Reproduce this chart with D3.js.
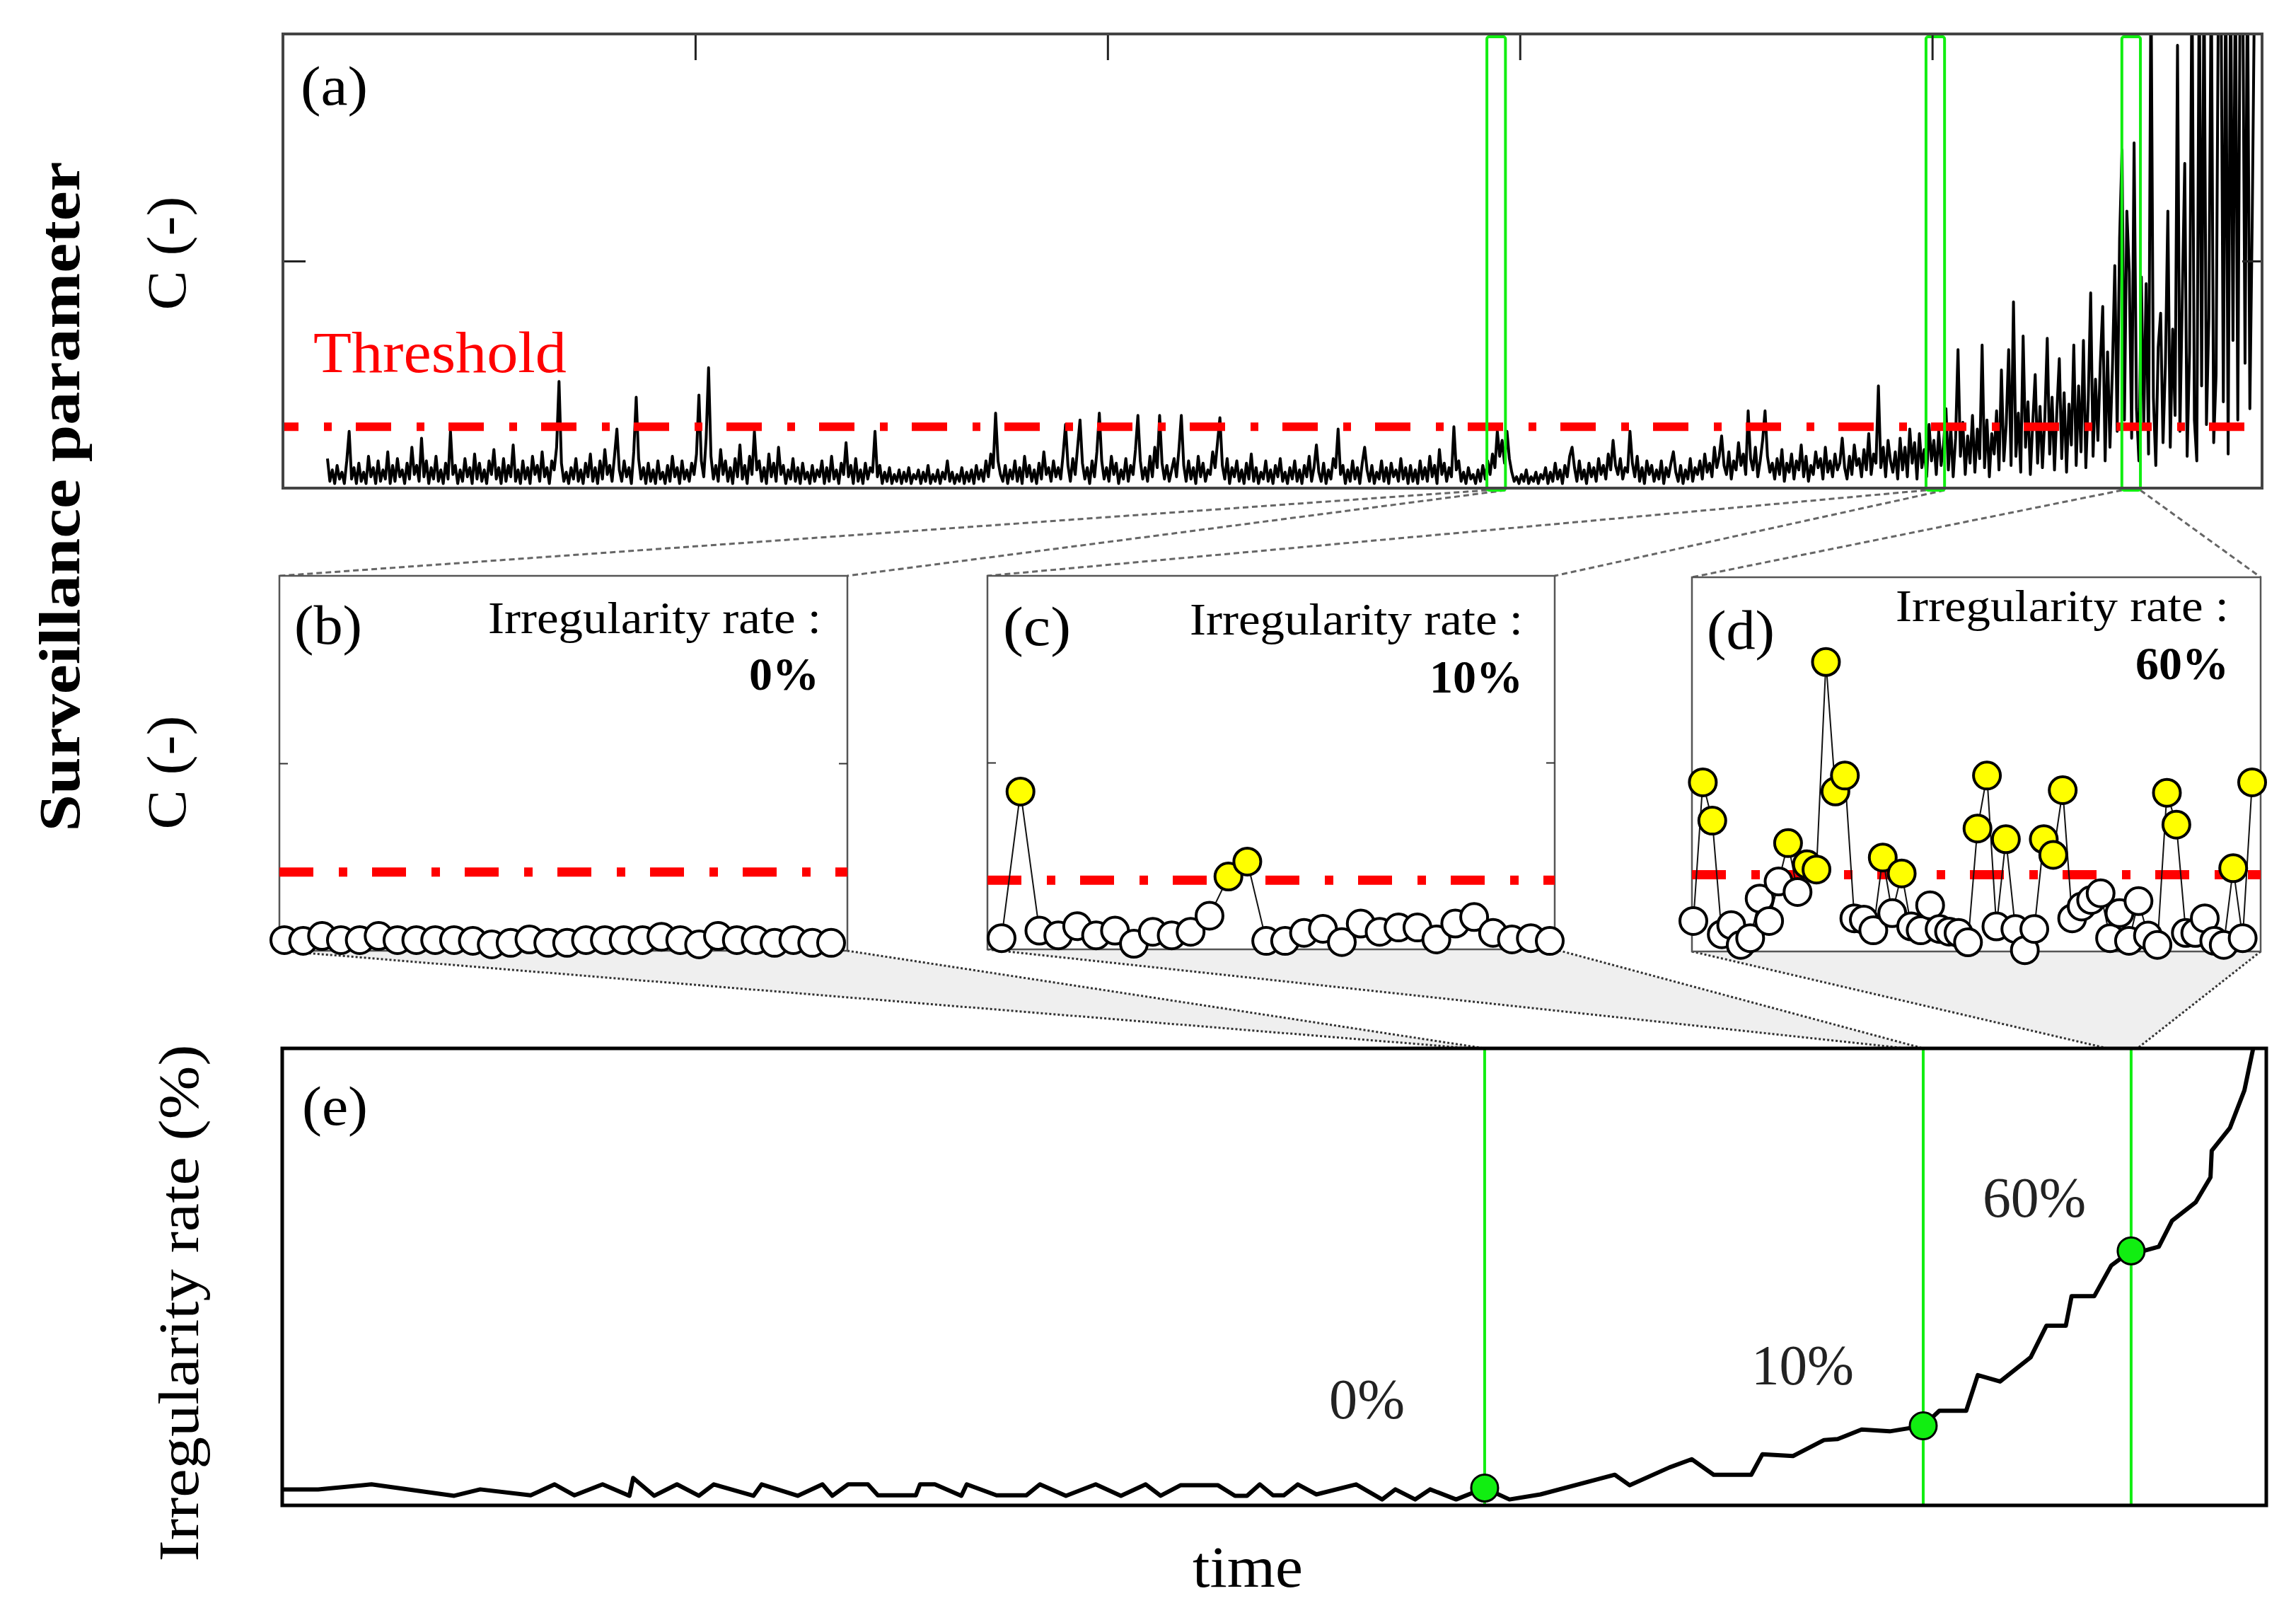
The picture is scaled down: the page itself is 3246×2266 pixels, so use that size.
<!DOCTYPE html>
<html lang="en">
<head>
<meta charset="UTF-8">
<title>Surveillance parameter and irregularity rate</title>
<script src="https://d3js.org/d3.v7.min.js"></script>
<style>
  body { margin: 0; background: #fff; }
  svg { display: block; font-family: "Liberation Serif", "DejaVu Serif", serif; }
</style>
</head>
<body>
<svg id="canvas"></svg>
<script>
let width = 3246
let height = 2266

// ---------- data ----------
// (a) surveillance parameter C, one value per sample
let signalStart = 1.08
let signalStep = 0.0585
let signalValues = [
  0.13,0.03,0.08,0.02,0.10,0.04,0.07,0.02,0.12,0.25, 0.04,0.09,0.02,0.11,0.03,0.07,0.02,0.14,0.05,0.09,
  0.02,0.12,0.03,0.08,0.04,0.16,0.02,0.10,0.03,0.13, 0.05,0.08,0.02,0.11,0.04,0.18,0.06,0.10,0.03,0.22,
  0.05,0.12,0.02,0.09,0.04,0.14,0.03,0.08,0.02,0.11,
  0.04,0.25,0.06,0.10,0.02,0.08,0.03,0.13,0.05,0.09, 0.02,0.15,0.04,0.11,0.03,0.08,0.02,0.12,0.06,0.17,
  0.04,0.09,0.02,0.13,0.03,0.10,0.05,0.19,0.03,0.08, 0.02,0.12,0.04,0.09,0.02,0.14,0.06,0.10,0.03,0.16,
  0.05,0.09,0.02,0.12,0.08,0.18,0.47,0.11,0.03,0.07,
  0.02,0.09,0.04,0.13,0.03,0.08,0.02,0.11,0.05,0.15, 0.03,0.09,0.02,0.12,0.04,0.17,0.06,0.10,0.03,0.14,
  0.26,0.08,0.03,0.12,0.05,0.09,0.02,0.16,0.40,0.13, 0.04,0.09,0.02,0.11,0.03,0.08,0.02,0.12,0.04,0.07,
  0.02,0.10,0.03,0.14,0.05,0.09,0.02,0.12,0.04,0.08,
  0.03,0.11,0.06,0.15,0.41,0.12,0.05,0.22,0.53,0.14, 0.04,0.10,0.03,0.17,0.06,0.12,0.03,0.09,0.02,0.13,
  0.05,0.19,0.04,0.10,0.02,0.14,0.06,0.25,0.08,0.12, 0.03,0.09,0.02,0.15,0.05,0.11,0.03,0.18,0.06,0.10,
  0.02,0.08,0.04,0.13,0.03,0.09,0.02,0.11,0.04,0.07,
  0.02,0.10,0.03,0.08,0.05,0.12,0.02,0.09,0.03,0.14, 0.04,0.08,0.02,0.11,0.06,0.20,0.05,0.10,0.02,0.13,
  0.03,0.08,0.02,0.11,0.04,0.09,0.07,0.25,0.05,0.10, 0.02,0.07,0.03,0.09,0.02,0.06,0.03,0.08,0.02,0.07,
  0.03,0.09,0.02,0.06,0.04,0.08,0.02,0.07,0.03,0.10,
  0.02,0.06,0.03,0.08,0.02,0.07,0.04,0.12,0.03,0.07, 0.02,0.06,0.03,0.09,0.02,0.07,0.03,0.08,0.02,0.10,
  0.04,0.08,0.03,0.12,0.05,0.15,0.09,0.33,0.12,0.06, 0.03,0.10,0.02,0.08,0.04,0.12,0.03,0.09,0.02,0.14,
  0.05,0.10,0.03,0.08,0.02,0.11,0.04,0.16,0.06,0.09,
  0.03,0.12,0.05,0.09,0.04,0.15,0.28,0.10,0.03,0.13, 0.06,0.18,0.30,0.11,0.04,0.09,0.02,0.12,0.05,0.16,
  0.33,0.12,0.04,0.09,0.03,0.14,0.06,0.11,0.02,0.08, 0.04,0.13,0.03,0.10,0.06,0.17,0.32,0.12,0.04,0.09,
  0.03,0.14,0.05,0.18,0.09,0.32,0.11,0.04,0.10,0.03,
  0.08,0.13,0.05,0.17,0.32,0.10,0.03,0.12,0.04,0.09, 0.02,0.14,0.05,0.11,0.03,0.08,0.06,0.16,0.09,0.20,
  0.31,0.10,0.04,0.13,0.02,0.09,0.05,0.12,0.03,0.08, 0.02,0.11,0.04,0.15,0.03,0.09,0.02,0.07,0.04,0.12,
  0.03,0.08,0.02,0.10,0.05,0.13,0.03,0.07,0.02,0.09,
  0.04,0.12,0.03,0.08,0.02,0.10,0.05,0.14,0.03,0.09, 0.19,0.07,0.03,0.11,0.02,0.08,0.04,0.13,0.09,0.26,
  0.06,0.10,0.02,0.08,0.03,0.12,0.04,0.09,0.02,0.11, 0.18,0.08,0.03,0.10,0.02,0.07,0.04,0.12,0.03,0.09,
  0.02,0.11,0.05,0.08,0.03,0.13,0.04,0.09,0.02,0.10,
  0.03,0.08,0.02,0.12,0.04,0.09,0.03,0.14,0.05,0.10, 0.02,0.17,0.06,0.11,0.03,0.09,0.05,0.27,0.08,0.12,
  0.03,0.07,0.02,0.09,0.04,0.06,0.02,0.08,0.03,0.10, 0.04,0.12,0.06,0.15,0.09,0.25,0.14,0.21,0.11,0.25,
  0.13,0.07,0.03,0.05,0.02,0.06,0.03,0.08,0.02,0.05,
  0.03,0.07,0.02,0.06,0.04,0.09,0.02,0.07,0.03,0.11, 0.04,0.08,0.02,0.10,0.05,0.14,0.18,0.09,0.03,0.12,
  0.04,0.08,0.02,0.11,0.05,0.09,0.03,0.13,0.06,0.10, 0.04,0.15,0.08,0.21,0.10,0.06,0.13,0.04,0.09,0.07,
  0.25,0.11,0.05,0.14,0.03,0.09,0.02,0.12,0.06,0.10,
  0.03,0.08,0.04,0.12,0.02,0.09,0.05,0.11,0.16,0.07, 0.03,0.10,0.02,0.08,0.04,0.13,0.03,0.09,0.06,0.12,
  0.04,0.15,0.07,0.11,0.05,0.18,0.09,0.14,0.23,0.10, 0.06,0.16,0.04,0.12,0.08,0.20,0.10,0.15,0.06,0.34,
  0.13,0.08,0.18,0.05,0.12,0.21,0.34,0.14,0.07,0.11,
  0.04,0.13,0.06,0.17,0.03,0.11,0.07,0.15,0.04,0.12, 0.08,0.19,0.05,0.14,0.03,0.10,0.06,0.16,0.09,0.13,
  0.04,0.18,0.07,0.12,0.05,0.15,0.08,0.11,0.22,0.09, 0.04,0.14,0.06,0.19,0.10,0.13,0.05,0.17,0.08,0.24,
  0.06,0.15,0.11,0.45,0.09,0.18,0.05,0.21,0.12,0.07,
  0.16,0.04,0.22,0.08,0.18,0.05,0.26,0.11,0.20,0.04, 0.24,0.09,0.17,0.05,0.28,0.12,0.21,0.06,0.25,0.10,
  0.19,0.35,0.08,0.27,0.05,0.22,0.61,0.14,0.29,0.06, 0.23,0.11,0.32,0.07,0.26,0.13,0.63,0.09,0.30,0.05,
  0.24,0.15,0.34,0.08,0.52,0.12,0.28,0.61,0.10,0.82,
  0.14,0.33,0.07,0.67,0.18,0.38,0.06,0.29,0.50,0.11, 0.36,0.09,0.31,0.66,0.15,0.40,0.08,0.34,0.57,0.13,
  0.42,0.07,0.37,0.19,0.63,0.10,0.45,0.16,0.65,0.09, 0.39,0.86,0.14,0.48,0.21,0.55,0.80,0.12,0.60,0.18,
  0.52,0.98,0.25,1.10,1.49,0.30,1.22,0.95,0.22,1.52,
  0.35,0.12,0.93,0.28,0.90,0.15,2.30,0.40,0.10,0.62, 0.77,0.20,0.55,1.22,0.18,0.70,0.32,1.95,0.25,0.85,
  1.43,0.14,0.60,2.30,0.30,0.12,2.30,0.45,2.30,0.28, 0.75,2.30,0.20,0.50,2.30,2.30,0.38,2.30,0.15,2.30,
  0.65,2.30,0.30,2.30,2.30,0.55,2.30,0.35,1.20,2.30
]
let threshold = 0.27
let timeTicks = [10, 20, 30, 40]
let cTicks = [1]

// the three zoomed windows (time)
let zoomWindows = [[29.2, 29.65], [39.85, 40.3], [44.6, 45.05]]
let eWindows = [[28.75, 29.09], [39.29, 39.70], [44.16, 44.88]]

// (b), (c), (d) zoomed samples
let panelB = [0.057,0.053,0.079,0.057,0.057,0.079,0.057,0.057,0.057,0.057,0.053,0.034,0.042,0.06,0.042,
              0.042,0.057,0.057,0.057,0.057,0.075,0.057,0.034,0.079,0.057,0.057,0.042,0.057,0.042,0.042]
let panelC = [0.06,0.845,0.10,0.075,0.124,0.075,0.10,0.03,0.094,0.075,0.094,0.18,0.39,0.47,0.045,
              0.045,0.088,0.11,0.039,0.138,0.094,0.117,0.117,0.053,0.138,0.173,0.088,0.053,0.06,0.045]
let panelD = [0.163,0.904,0.699,0.092,0.141,0.035,0.071,0.283,0.163,0.374,0.579,0.318,0.466,0.438,1.547,
              0.855,0.94,0.177,0.17,0.113,0.502,0.205,0.417,0.134,0.113,0.247,0.12,0.106,0.099,0.049,
              0.657,0.94,0.134,0.60,0.12,0.007,0.12,0.60,0.516,0.862,0.177,0.24,0.275,0.311,0.071,
              0.205,0.057,0.269,0.085,0.035,0.848,0.678,0.099,0.099,0.177,0.057,0.035,0.445,0.071,0.904]
let zoomThresholds = [0.42, 0.37, 0.41]
let zoomLetters = ['(b)', '(c)', '(d)']
let rateLabels = ['0%', '10%', '60%']

// (e) irregularity rate
let rateTimes = [0,0.87,2.16,4.16,4.79,6.01,6.59,7.07,7.75,8.40,8.49,9.00,9.55,10.08,10.44,11.40,11.60,12.47,13.07,13.31,
  13.69,14.17,14.41,15.33,15.43,15.79,16.43,16.56,17.28,18.00,18.33,18.96,19.68,20.29,20.89,21.25,21.73,22.64,23.05,23.34,
  23.65,23.97,24.23,24.57,25.02,25.98,26.61,26.93,27.41,27.77,28.40,29.09,29.69,30.44,32.24,32.60,33.56,34.10,34.63,35.54,
  35.81,36.55,37.30,37.63,38.21,38.89,39.70,40.09,40.74,41.02,41.56,42.30,42.68,43.15,43.29,43.84,44.25,44.73,45.04,45.40,
  45.72,46.29,46.65,46.68,47.12,47.47,47.68]
let rateValues = [.035,.035,.046,.021,.035,.022,.046,.022,.046,.021,.060,.021,.046,.021,.046,.021,.046,.021,.046,.021,
  .046,.046,.022,.022,.046,.046,.021,.046,.022,.022,.046,.021,.046,.021,.046,.021,.044,.044,.021,.021,
  .046,.022,.022,.046,.024,.046,.013,.035,.013,.035,.013,.038,.013,.024,.067,.044,.083,.101,.067,.067,
  .112,.108,.143,.145,.166,.162,.174,.207,.207,.285,.271,.324,.393,.393,.458,.458,.525,.557,.557,.566,
  .623,.663,.718,.776,.826,.908,.999]
let markerTimes = [29.09, 39.70, 44.73]
let markerValues = [0.038, 0.174, 0.557]

// ---------- layout ----------
let frameA = {x0: 400, x1: 3198, y0: 48, y1: 690}
let zoomFrames = [
  {x0: 395, x1: 1198, y0: 814, y1: 1344, p0: 402, p1: 1175, lx: 416, ly: 910, tx: 1161, ty: 895, rx: 1158, ry: 975},
  {x0: 1396, x1: 2198, y0: 814, y1: 1342, p0: 1416, p1: 2191, lx: 1418, ly: 912, tx: 2153, ty: 897, rx: 2153, ry: 979},
  {x0: 2392, x1: 3196, y0: 816, y1: 1345, p0: 2394, p1: 3184, lx: 2413, ly: 917, tx: 3151, ty: 878, rx: 3151, ry: 960}
]
let frameE = {x0: 399, x1: 3204, y0: 1482, y1: 2128}
let green = '#11ee11'

let svg = d3.select('#canvas').attr('width', width).attr('height', height)
svg.append('rect').attr('width', width).attr('height', height).attr('fill', '#fff')

let xA = d3.scaleLinear().domain([0, 48]).range([frameA.x0, frameA.x1])
let yA = d3.scaleLinear().domain([0, 2]).range([frameA.y1, frameA.y0])
let xE = d3.scaleLinear().domain([0, 48]).range([frameE.x0, frameE.x1])
let yE = d3.scaleLinear().domain([0, 1]).range([frameE.y1, frameE.y0])

let defs = svg.append('defs')
defs.append('clipPath').attr('id', 'clipA').append('rect')
  .attr('x', frameA.x0).attr('y', frameA.y0)
  .attr('width', frameA.x1 - frameA.x0).attr('height', frameA.y1 - frameA.y0)

let cleanAxis = (g, color, w) => {
  g.select('.domain').remove()
  g.selectAll('.tick text').remove()
  g.selectAll('.tick line').attr('stroke', color).attr('stroke-width', w)
}

// ---------- connectors (behind everything) ----------
zoomFrames.forEach((f, k) => {
  let ew = eWindows[k]
  svg.append('path')
    .attr('d', `M${f.x0},${f.y1} L${f.x1},${f.y1} L${xE(ew[1])},${frameE.y0} L${xE(ew[0])},${frameE.y0} Z`)
    .attr('fill', '#efefef')
  ;[[f.x0, ew[0]], [f.x1, ew[1]]].forEach(p => {
    svg.append('line')
      .attr('x1', p[0]).attr('y1', f.y1).attr('x2', xE(p[1])).attr('y2', frameE.y0)
      .attr('stroke', '#333').attr('stroke-width', 3).attr('stroke-dasharray', '3,3')
  })
  let w = zoomWindows[k]
  ;[[w[0], f.x0], [w[1], f.x1]].forEach(p => {
    svg.append('line')
      .attr('x1', xA(p[0])).attr('y1', frameA.y1 + 3).attr('x2', p[1]).attr('y2', f.y0)
      .attr('stroke', '#666').attr('stroke-width', 3).attr('stroke-dasharray', '8,5')
  })
})

// ---------- panel (a) ----------
let gA = svg.append('g')
gA.append('rect')
  .attr('x', frameA.x0).attr('y', frameA.y0)
  .attr('width', frameA.x1 - frameA.x0).attr('height', frameA.y1 - frameA.y0)
  .attr('fill', '#fff')

let signalLine = d3.line()
  .x((d, i) => xA(signalStart + i * signalStep))
  .y(d => yA(d))

gA.append('path')
  .datum(signalValues)
  .attr('clip-path', 'url(#clipA)')
  .attr('d', signalLine)
  .attr('fill', 'none').attr('stroke', '#000').attr('stroke-width', 4)
  .attr('stroke-linejoin', 'round')

gA.append('line')
  .attr('x1', xA(0)).attr('x2', xA(47.66))
  .attr('y1', yA(threshold)).attr('y2', yA(threshold))
  .attr('stroke', '#ff0000').attr('stroke-width', 12)
  .attr('stroke-dasharray', '50,36,11,34').attr('stroke-dashoffset', 28)

gA.selectAll('.zoombox')
  .data(zoomWindows)
  .enter()
  .append('rect')
  .attr('class', 'zoombox')
  .attr('x', d => xA(d[0])).attr('width', d => xA(d[1]) - xA(d[0]))
  .attr('y', frameA.y0 + 4).attr('height', frameA.y1 - frameA.y0 - 1)
  .attr('rx', 3)
  .attr('fill', 'none').attr('stroke', green).attr('stroke-width', 4)

gA.append('g').attr('transform', `translate(0,${frameA.y0})`)
  .call(d3.axisTop(xA).tickValues(timeTicks).tickSize(-37))
  .call(g => cleanAxis(g, '#222', 3))
gA.append('g').attr('transform', `translate(${frameA.x0},0)`)
  .call(d3.axisLeft(yA).tickValues(cTicks).tickSize(-32))
  .call(g => cleanAxis(g, '#222', 3))
gA.append('g').attr('transform', `translate(${frameA.x1},0)`)
  .call(d3.axisRight(yA).tickValues(cTicks).tickSize(-28))
  .call(g => cleanAxis(g, '#222', 3))

gA.append('rect')
  .attr('x', frameA.x0).attr('y', frameA.y0)
  .attr('width', frameA.x1 - frameA.x0).attr('height', frameA.y1 - frameA.y0)
  .attr('fill', 'none').attr('stroke', '#444').attr('stroke-width', 4)

gA.append('text').text('(a)')
  .attr('x', 425).attr('y', 148).attr('font-size', 78)
  .attr('textLength', 95).attr('lengthAdjust', 'spacingAndGlyphs')
gA.append('text').text('Threshold')
  .attr('x', 443).attr('y', 526).attr('font-size', 82).attr('fill', '#ff0000')
  .attr('textLength', 358).attr('lengthAdjust', 'spacingAndGlyphs')

// ---------- panels (b), (c), (d) ----------
let zoomData = [panelB, panelC, panelD]
zoomFrames.forEach((f, k) => {
  let vals = zoomData[k]
  let th = zoomThresholds[k]
  let x = d3.scaleLinear().domain([0, vals.length - 1]).range([f.p0, f.p1])
  let y = d3.scaleLinear().domain([0, 2]).range([f.y1, f.y0])
  let g = svg.append('g')

  g.append('rect')
    .attr('x', f.x0).attr('y', f.y0).attr('width', f.x1 - f.x0).attr('height', f.y1 - f.y0)
    .attr('fill', '#fff').attr('stroke', '#555').attr('stroke-width', 2.5)

  if (k < 2) {
    g.append('g').attr('transform', `translate(${f.x0},0)`)
      .call(d3.axisLeft(y).tickValues(cTicks).tickSize(-12))
      .call(a => cleanAxis(a, '#333', 2))
    g.append('g').attr('transform', `translate(${f.x1},0)`)
      .call(d3.axisRight(y).tickValues(cTicks).tickSize(-12))
      .call(a => cleanAxis(a, '#333', 2))
  }

  g.append('line')
    .attr('x1', f.x0).attr('x2', f.x1).attr('y1', y(th)).attr('y2', y(th))
    .attr('stroke', '#ff0000').attr('stroke-width', 13)
    .attr('stroke-dasharray', '48,36,12,35')

  g.append('path')
    .datum(vals)
    .attr('d', d3.line().x((d, i) => x(i)).y(d => y(d)))
    .attr('fill', 'none').attr('stroke', '#111').attr('stroke-width', 2)

  g.selectAll('circle')
    .data(vals)
    .enter()
    .append('circle')
    .attr('cx', (d, i) => x(i)).attr('cy', d => y(d)).attr('r', 19)
    .attr('fill', d => d > th ? '#ffff00' : '#fff')
    .attr('stroke', '#000').attr('stroke-width', 4)

  g.append('text').text(zoomLetters[k])
    .attr('x', f.lx).attr('y', f.ly).attr('font-size', 78)
    .attr('textLength', 96).attr('lengthAdjust', 'spacingAndGlyphs')
  g.append('text').text('Irregularity rate :')
    .attr('x', f.tx).attr('y', f.ty).attr('font-size', 64).attr('text-anchor', 'end')
    .attr('textLength', 471).attr('lengthAdjust', 'spacingAndGlyphs')
  g.append('text').text(rateLabels[k])
    .attr('x', f.rx).attr('y', f.ry).attr('font-size', 66).attr('font-weight', 'bold')
    .attr('text-anchor', 'end')
})

// ---------- panel (e) ----------
let gE = svg.append('g')
gE.append('rect')
  .attr('x', frameE.x0).attr('y', frameE.y0)
  .attr('width', frameE.x1 - frameE.x0).attr('height', frameE.y1 - frameE.y0)
  .attr('fill', '#fff')

gE.selectAll('.gline')
  .data(markerTimes)
  .enter()
  .append('line')
  .attr('class', 'gline')
  .attr('x1', d => xE(d)).attr('x2', d => xE(d))
  .attr('y1', frameE.y0).attr('y2', frameE.y1)
  .attr('stroke', green).attr('stroke-width', 4)

let rateLine = d3.line()
  .x((d, i) => xE(rateTimes[i]))
  .y(d => yE(d))

gE.append('path')
  .datum(rateValues)
  .attr('d', rateLine)
  .attr('fill', 'none').attr('stroke', '#000').attr('stroke-width', 6)
  .attr('stroke-linejoin', 'round')

gE.selectAll('.marker')
  .data(markerTimes)
  .enter()
  .append('circle')
  .attr('class', 'marker')
  .attr('cx', d => xE(d)).attr('cy', (d, i) => yE(markerValues[i])).attr('r', 19)
  .attr('fill', green).attr('stroke', '#000').attr('stroke-width', 3)

gE.append('rect')
  .attr('x', frameE.x0).attr('y', frameE.y0)
  .attr('width', frameE.x1 - frameE.x0).attr('height', frameE.y1 - frameE.y0)
  .attr('fill', 'none').attr('stroke', '#000').attr('stroke-width', 5)

gE.append('text').text('(e)')
  .attr('x', 427).attr('y', 1590).attr('font-size', 78)
  .attr('textLength', 93).attr('lengthAdjust', 'spacingAndGlyphs')

let eLabelPos = [[1879, 2005, 107], [2476, 1957, 145], [2803, 1720, 146]]
rateLabels.forEach((t, i) => {
  gE.append('text').text(t)
    .attr('x', eLabelPos[i][0]).attr('y', eLabelPos[i][1]).attr('font-size', 80)
    .attr('fill', '#222')
    .attr('textLength', eLabelPos[i][2]).attr('lengthAdjust', 'spacingAndGlyphs')
})

// ---------- axis titles ----------
let vTitle = (txt, x, y, len, size, weight) => {
  svg.append('text').text(txt)
    .attr('transform', `translate(${x},${y}) rotate(-90)`)
    .attr('text-anchor', 'middle').attr('font-size', size).attr('font-weight', weight)
    .attr('textLength', len).attr('lengthAdjust', 'spacingAndGlyphs')
}
vTitle('Surveillance parameter', 112, 702, 947, 82, 'bold')
vTitle('C (-)', 262, 358, 161, 78, 'normal')
vTitle('C (-)', 262, 1092, 161, 78, 'normal')
vTitle('Irregularity rate (%)', 280, 1842, 731, 80, 'normal')

svg.append('text').text('time')
  .attr('x', 1764).attr('y', 2243).attr('text-anchor', 'middle').attr('font-size', 82)
  .attr('textLength', 156).attr('lengthAdjust', 'spacingAndGlyphs')
</script>
</body>
</html>
